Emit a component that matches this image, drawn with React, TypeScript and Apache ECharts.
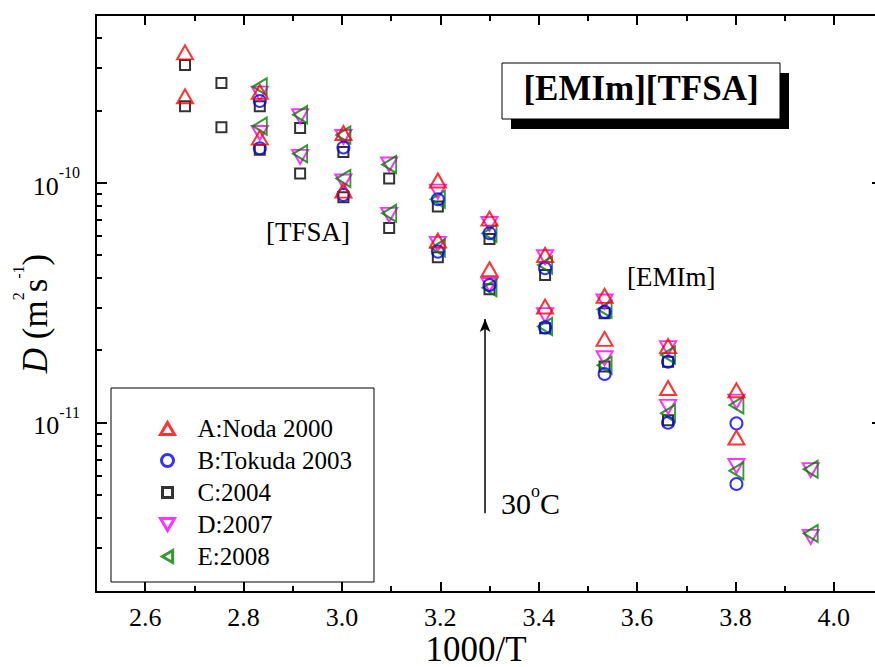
import React, { useEffect, useRef } from 'react';
import * as echarts from 'echarts';

const FONT = 'Liberation Serif';

// ---- data (1000/T, D in m^2 s^-1); upper branch = [EMIm] cation, lower = [TFSA] anion ----
const xA = [2.681, 2.833, 3.003, 3.195, 3.3, 3.413, 3.534, 3.663, 3.802];
const aCation = [3.49e-10, 2.39e-10, 1.61e-10, 1.02e-10, 7.07e-11, 4.99e-11, 3.37e-11, 2.08e-11, 1.36e-11];
const aAnion = [2.29e-10, 1.54e-10, 9.26e-11, 5.73e-11, 4.35e-11, 3.04e-11, 2.23e-11, 1.39e-11, 8.64e-12];

const xB = [2.833, 3.003, 3.195, 3.3, 3.413, 3.534, 3.663, 3.802];
const bCation = [2.19e-10, 1.4e-10, 8.52e-11, 6.15e-11, 4.39e-11, 2.89e-11, 1.79e-11, 9.9e-12];
const bAnion = [1.39e-10, 8.89e-11, 5.15e-11, 3.74e-11, 2.49e-11, 1.59e-11, 9.96e-12, 5.53e-12];

const xC = [2.681, 2.755, 2.833, 2.915, 3.003, 3.096, 3.195, 3.3, 3.413, 3.534, 3.663];
const cCation = [3.09e-10, 2.6e-10, 2.08e-10, 1.69e-10, 1.34e-10, 1.04e-10, 7.94e-11, 5.81e-11, 4.12e-11, 2.85e-11, 1.79e-11];
const cAnion = [2.08e-10, 1.7e-10, 1.37e-10, 1.09e-10, 8.69e-11, 6.47e-11, 4.88e-11, 3.59e-11, 2.47e-11, 1.71e-11, 1.02e-11];

const xDE = [2.833, 2.915, 3.003, 3.096, 3.195, 3.3, 3.413, 3.534, 3.663, 3.802, 3.953];
const dCation = [2.35e-10, 1.89e-10, 1.55e-10, 1.19e-10, 9.17e-11, 6.72e-11, 4.88e-11, 3.19e-11, 2.04e-11, 1.22e-11, 6.32e-12];
const dAnion = [1.61e-10, 1.28e-10, 1.01e-10, 7.33e-11, 5.55e-11, 3.74e-11, 2.8e-11, 1.85e-11, 1.16e-11, 6.57e-12, 3.33e-12];
const eCation = [2.51e-10, 1.92e-10, 1.58e-10, 1.19e-10, 8.52e-11, 6.15e-11, 4.53e-11, 2.96e-11, 1.91e-11, 1.18e-11, 6.37e-12];
const eAnion = [1.72e-10, 1.32e-10, 1.04e-10, 7.45e-11, 5.34e-11, 3.64e-11, 2.51e-11, 1.73e-11, 1.09e-11, 6.28e-12, 3.44e-12];

const seriesNames = ['A:Noda 2000', 'B:Tokuda 2003', 'C:2004', 'D:2007', 'E:2008'];

// ---- axes ----
const X_MIN = 2.5;
const X_MAX = 4.1;
const Y_MIN = 1.96e-12;
const Y_MAX = 5e-10;
const xMajorTicks = [2.6, 2.8, 3.0, 3.2, 3.4, 3.6, 3.8, 4.0];
const xMinorTicks = [2.5, 2.7, 2.9, 3.1, 3.3, 3.5, 3.7, 3.9, 4.1];
const yMinorTicks = [
  3e-12, 4e-12, 5e-12, 6e-12, 7e-12, 8e-12, 9e-12,
  2e-11, 3e-11, 4e-11, 5e-11, 6e-11, 7e-11, 8e-11, 9e-11,
  2e-10, 3e-10, 4e-10,
];

// 30 °C arrow (data units): x, bottom D, top D
const arrowX = 3.291;
const arrowBottom = 4.18e-12;
const arrowTop = 2.7e-11;

const pair = (xs: number[], up: number[], low: number[]) =>
  xs.map((x, i) => [x, up[i]]).concat(xs.map((x, i) => [x, low[i]]));

const tickLine = { color: '#000', width: 2 };

// legend icons (aspect kept inside the legend item box)
const ICON_CIRCLE = 'path://M6,0A6,6 0 1,1 6,12A6,6 0 1,1 6,0Z';
const ICON_SQUARE = 'path://M-1,-1M11,11M0,0L10,0L10,10L0,10Z';
const ICON_DOWN = 'path://M0,0L14,0L7,12Z';
const ICON_LEFT = 'path://M0,7L12,0L12,14Z';

function buildOption(): any {
  const mk = (
    name: string,
    data: number[][],
    symbol: string,
    size: number | number[],
    rotate: number,
    color: string,
    extra: any = {}
  ) => ({
    type: 'scatter',
    name,
    data,
    xAxisIndex: 0,
    yAxisIndex: 0,
    symbol,
    symbolSize: size,
    symbolRotate: rotate,
    itemStyle: { color: 'rgba(0,0,0,0)', borderColor: color, borderWidth: 2 },
    emphasis: { disabled: true },
    silent: true,
    ...extra,
  });

  const series = [
    mk(seriesNames[2], pair(xC, cCation, cAnion), 'rect', 10, 0, '#000000'),
    mk(seriesNames[3], pair(xDE, dCation, dAnion), 'triangle', [16, 14], 180, '#ff00ff'),
    mk(seriesNames[4], pair(xDE, eCation, eAnion), 'triangle', [17, 14], 90, '#008000'),
    mk(seriesNames[1], pair(xB, bCation, bAnion), 'circle', 12, 0, '#0000ff'),
    mk(seriesNames[0], pair(xA, aCation, aAnion), 'triangle', [16, 14], 0, '#ff0000', {
      markLine: {
        silent: true,
        label: { show: false },
        emphasis: { disabled: true },
        lineStyle: { color: '#000', width: 1.5, type: 'solid' },
        data: [
          [
            { coord: [arrowX, arrowBottom], symbol: 'none' },
            { coord: [arrowX, arrowTop], symbol: 'arrow', symbolSize: [8, 13] },
          ],
        ],
      },
    }),
  ];

  const xBase = {
    type: 'value',
    min: X_MIN,
    max: X_MAX,
    splitLine: { show: false },
    axisLine: { show: true, onZero: false, lineStyle: tickLine },
  };
  const yLogBase = {
    type: 'log',
    logBase: 10,
    min: Y_MIN,
    max: Y_MAX,
    splitLine: { show: false },
    minorTick: { show: false },
    axisLine: { show: true, onZero: false, lineStyle: tickLine },
    axisTick: { show: true, inside: true, length: 11, lineStyle: tickLine },
  };
  const yMinorBase = {
    type: 'value',
    min: Math.log10(Y_MIN),
    max: Math.log10(Y_MAX),
    splitLine: { show: false },
    axisLine: { show: false },
    axisLabel: { show: false },
    axisTick: {
      show: true,
      inside: true,
      length: 6,
      lineStyle: tickLine,
      customValues: yMinorTicks.map((v) => Math.log10(v)),
    },
  };

  return {
    animation: false,
    backgroundColor: '#ffffff',
    textStyle: { fontFamily: FONT },
    grid: {
      left: 96,
      top: 15,
      width: 787,
      height: 577,
      containLabel: false,
      outerBoundsMode: 'none',
    },
    legend: {
      data: [
        { name: seriesNames[0] },
        { name: seriesNames[1], icon: ICON_CIRCLE },
        { name: seriesNames[2], icon: ICON_SQUARE },
        { name: seriesNames[3], icon: ICON_DOWN },
        { name: seriesNames[4], icon: ICON_LEFT },
      ],
      orient: 'vertical',
      left: 111,
      top: 388,
      padding: [28, 22, 13, 48],
      itemWidth: 14,
      itemHeight: 12,
      itemGap: 7,
      symbolKeepAspect: true,
      symbolRotate: 0,
      selectedMode: false,
      borderColor: '#000',
      borderWidth: 1,
      backgroundColor: '#fff',
      itemStyle: { borderWidth: 3 },
      textStyle: { fontFamily: FONT, fontSize: 25, color: '#000', padding: [0, 0, 0, 18] },
    },
    xAxis: [
      {
        ...xBase,
        position: 'bottom',
        axisTick: { show: true, inside: true, length: 10, lineStyle: tickLine, customValues: xMajorTicks },
        axisLabel: {
          customValues: xMajorTicks,
          formatter: (v: number) => '{t|' + Number(v).toFixed(1) + '}',
          fontFamily: FONT,
          fontSize: 26,
          color: '#000',
          margin: 12,
          rich: {
            t: { fontFamily: FONT, fontSize: 26, color: '#000' },
          },
        },
        name: '1000/T',
        nameLocation: 'middle',
        nameGap: 44,
        nameMoveOverlap: false,
        nameTextStyle: { fontFamily: FONT, fontSize: 35, lineHeight: 26, color: '#000', padding: [0, 27, 0, 0] },
      },
      {
        ...xBase,
        position: 'top',
        axisTick: { show: true, inside: true, length: 10, lineStyle: tickLine, customValues: xMajorTicks },
        axisLabel: { show: false },
      },
      {
        ...xBase,
        position: 'bottom',
        axisLine: { show: false },
        axisTick: { show: true, inside: true, length: 6, lineStyle: tickLine, customValues: xMinorTicks },
        axisLabel: { show: false },
      },
      {
        ...xBase,
        position: 'top',
        axisLine: { show: false },
        axisTick: { show: true, inside: true, length: 6, lineStyle: tickLine, customValues: xMinorTicks },
        axisLabel: { show: false },
      },
    ],
    yAxis: [
      {
        ...yLogBase,
        position: 'left',
        axisLabel: {
          margin: 16,
          padding: [7, 0, 0, 0],
          fontFamily: FONT,
          formatter: (v: number) => {
            const e = Math.log10(v);
            const r = Math.round(e);
            if (Math.abs(e - r) > 1e-6) return '';
            return '{b|10}{s|' + r + '}';
          },
          rich: {
            b: { fontFamily: FONT, fontSize: 26, lineHeight: 43, color: '#000' },
            s: { fontFamily: FONT, fontSize: 16, lineHeight: 16, verticalAlign: 'top', color: '#000' },
          },
        },
        name: '{i|D}{n| (m}{s|2}{n|s}{s|-1}{n|)}',
        nameLocation: 'middle',
        nameGap: 36,
        nameMoveOverlap: false,
        nameTextStyle: {
          fontFamily: FONT,
          padding: [0, 20, 0, 0],
          rich: {
            i: { fontFamily: FONT, fontSize: 35, fontStyle: 'italic', lineHeight: 50, color: '#000' },
            n: { fontFamily: FONT, fontSize: 35, lineHeight: 50, color: '#000' },
            s: { fontFamily: FONT, fontSize: 16, lineHeight: 16, verticalAlign: 'top', color: '#000' },
          },
        },
      },
      {
        ...yLogBase,
        position: 'right',
        axisLabel: { show: false },
      },
      { ...yMinorBase, position: 'left' },
      { ...yMinorBase, position: 'right' },
    ],
    graphic: [
      {
        type: 'rect',
        shape: { x: 511, y: 73, width: 278, height: 56 },
        style: { fill: '#000' },
        z: 10,
        silent: true,
      },
      {
        type: 'rect',
        shape: { x: 502, y: 63, width: 278, height: 56 },
        style: { fill: '#fff', stroke: '#000', lineWidth: 1 },
        z: 11,
        silent: true,
      },
      {
        type: 'text',
        x: 641,
        y: 88,
        z: 12,
        silent: true,
        style: {
          text: '[EMIm][TFSA]',
          fontFamily: FONT,
          fontSize: 35,
          fontWeight: 'bold',
          fill: '#000',
          align: 'center',
          verticalAlign: 'middle',
        },
      },
      {
        type: 'text',
        x: 266,
        y: 232,
        z: 12,
        silent: true,
        style: { text: '[TFSA]', fontFamily: FONT, fontSize: 27, fill: '#000', align: 'left', verticalAlign: 'middle' },
      },
      {
        type: 'text',
        x: 627,
        y: 277,
        z: 12,
        silent: true,
        style: { text: '[EMIm]', fontFamily: FONT, fontSize: 27, fill: '#000', align: 'left', verticalAlign: 'middle' },
      },
      {
        type: 'text',
        x: 501,
        y: 503,
        z: 12,
        silent: true,
        style: {
          text: '30{s|o}C',
          fontFamily: FONT,
          fontSize: 30,
          lineHeight: 42,
          fill: '#000',
          align: 'left',
          verticalAlign: 'middle',
          rich: {
            s: { fontFamily: FONT, fontSize: 18, lineHeight: 18, verticalAlign: 'top', fill: '#000' },
          },
        },
      },
    ],
    series,
  };
}

export default function App() {
  const ref = useRef<HTMLDivElement>(null);
  useEffect(() => {
    if (!ref.current) return;
    const chart = echarts.init(ref.current, null, { renderer: 'svg' });
    chart.setOption(buildOption());
    return () => chart.dispose();
  }, []);
  return (
    <div
      ref={ref}
      style={{ position: 'fixed', left: 0, top: 0, width: 875, height: 667, background: '#fff' }}
    />
  );
}
